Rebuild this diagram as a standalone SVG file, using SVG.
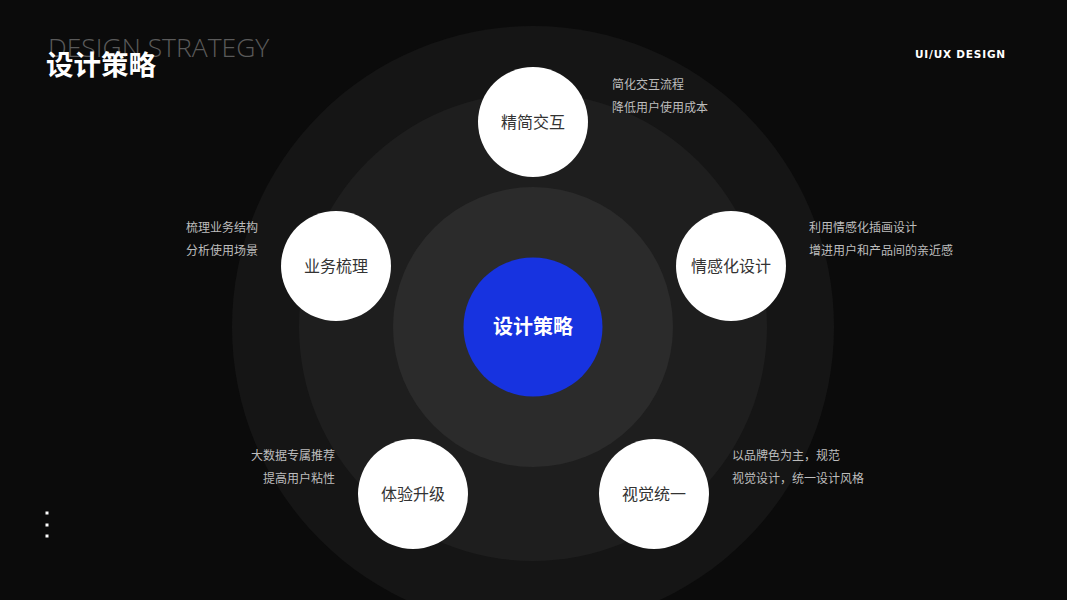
<svg xmlns="http://www.w3.org/2000/svg" width="1067" height="600" viewBox="0 0 1067 600">
<style>
.node{fill:#ffffff}
.nl{font-family:"Noto Sans CJK SC","Noto Sans",sans-serif;font-size:16px;fill:#333333;text-anchor:middle}
.desc{font-family:"Noto Sans CJK SC","Noto Sans",sans-serif;font-size:12px;fill:#bdbdbd}
.r{text-anchor:end}
</style>
<rect width="1067" height="600" fill="#0b0b0b"/>
<g id="rings">
<circle cx="533" cy="327" r="301" fill="#151515"/>
<circle cx="533" cy="327" r="234" fill="#1e1e1e"/>
<circle cx="533" cy="327" r="140" fill="#2b2b2b"/>
</g>
<g id="header">
<text x="48" y="57" font-family="'Open Sans','Noto Sans',sans-serif" font-size="26.5" font-weight="300" fill="#5a5a5a">DESIGN STRATEGY</text>
<text x="46" y="75" font-family="'Noto Sans CJK SC',sans-serif" font-size="27.5" font-weight="bold" fill="#ffffff">设计策略</text>
<text x="915" y="58" font-family="'DejaVu Sans',sans-serif" font-size="10.5" font-weight="bold" fill="#ffffff" letter-spacing="0.8">UI/UX DESIGN</text>
<rect x="45.5" y="511.5" width="3" height="3" fill="#ffffff"/>
<rect x="45.5" y="523.5" width="3" height="3" fill="#ffffff"/>
<rect x="45.5" y="534.5" width="3" height="3" fill="#ffffff"/>
</g>
<g id="connectors"></g>
<g id="center">
<circle cx="533" cy="327" r="69.5" fill="#1733e0"/>
<text x="533" y="334" font-family="'Noto Sans CJK SC',sans-serif" font-size="20" font-weight="bold" fill="#ffffff" text-anchor="middle">设计策略</text>
</g>
<g id="n1">
<circle class="node" cx="533" cy="122" r="55"/>
<text class="nl" x="533" y="128">精简交互</text>
<text class="desc" x="612" y="89">简化交互流程</text>
<text class="desc" x="612" y="112">降低用户使用成本</text>
</g>
<g id="n2">
<circle class="node" cx="336" cy="266" r="55"/>
<text class="nl" x="336" y="272">业务梳理</text>
<text class="desc r" x="258" y="232">梳理业务结构</text>
<text class="desc r" x="258" y="255">分析使用场景</text>
</g>
<g id="n3">
<circle class="node" cx="731" cy="266" r="55"/>
<text class="nl" x="731" y="272">情感化设计</text>
<text class="desc" x="809" y="232">利用情感化插画设计</text>
<text class="desc" x="809" y="255">增进用户和产品间的亲近感</text>
</g>
<g id="n4">
<circle class="node" cx="413" cy="494" r="55"/>
<text class="nl" x="413" y="500">体验升级</text>
<text class="desc r" x="335" y="460">大数据专属推荐</text>
<text class="desc r" x="335" y="483">提高用户粘性</text>
</g>
<g id="n5">
<circle class="node" cx="654" cy="494" r="55"/>
<text class="nl" x="654" y="500">视觉统一</text>
<text class="desc" x="732" y="460">以品牌色为主，规范</text>
<text class="desc" x="732" y="483">视觉设计，统一设计风格</text>
</g>
</svg>
